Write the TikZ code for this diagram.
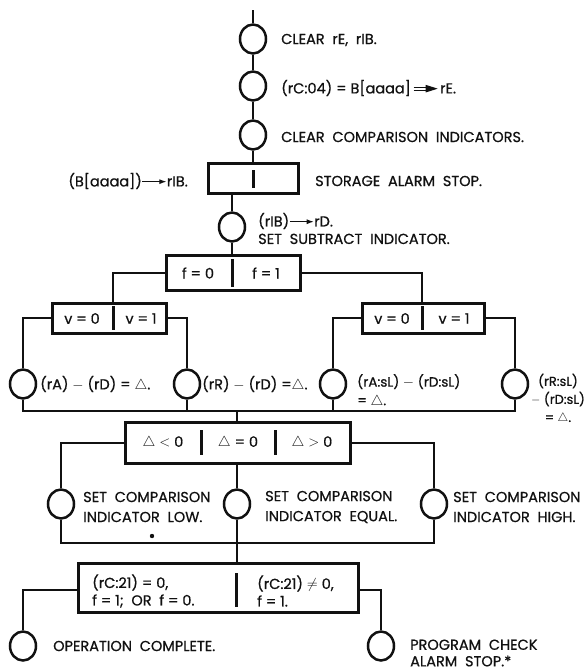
\documentclass[tikz,border=0pt]{standalone}
\usepackage{fontspec}
\setmainfont{Poppins}[FakeBold=0.7]
\usepackage{tikz}
\usetikzlibrary{arrows.meta,positioning,calc,shapes.geometric}
\definecolor{inkblack}{HTML}{111111}

\newcommand{\sarrow}{\tikz[baseline=-0.6ex]\draw[inkblack,line width=1pt,-{Latex[length=7pt,width=5pt]}] (0pt,0pt) -- (24pt,0pt);}
\newcommand{\dblarrow}{\tikz[baseline=-0.6ex]{\draw[inkblack,line width=0.9pt] (0pt,1.3pt) -- (15pt,1.3pt) (0pt,-1.3pt) -- (15pt,-1.3pt);
  \fill[inkblack] (12pt,3.8pt) -- (24pt,0pt) -- (12pt,-3.8pt) -- cycle;}}

\begin{document}
\begin{tikzpicture}[x=1pt,y=-1pt,inkblack,font=\fontsize{14.5}{17.5}\selectfont,
    opnode/.style={ellipse,draw=inkblack,line width=2.5pt,minimum width=26pt,minimum height=29pt,inner sep=0pt},
    testbox/.style={rectangle,draw=inkblack,line width=3pt,inner sep=0pt},
    link/.style={line width=2pt},
    divider/.style={line width=3pt},
    note/.style={anchor=west,align=left,inner sep=0pt},
    celltext/.style={inner sep=0pt}]
  \useasboundingbox (0,0) rectangle (587,670);

  % main column
  \coordinate (entry) at (253,10);
  \node[opnode] (c1) at (253,39) {};
  \node[note] (t1) at (281,40) {CLEAR\ \ rE,\ \ rIB.};
  \node[opnode] (c2) at (253,86) {};
  \node[note] (t2) at (281,88) {(rC:04) = B[aaaa]\,\dblarrow\,rE.};
  \node[opnode] (c3) at (253,135) {};
  \node[note] (t3) at (281,137) {CLEAR\ \ COMPARISON\ \ INDICATORS.};

  \node[testbox,minimum width=90pt,minimum height=30pt] (sbox) at (253,178) {};
  \node[note,anchor=east] (sin) at (188,181) {(B[aaaa])\sarrow rIB.};
  \node[note] (sout) at (315,181) {STORAGE\ \ ALARM\ \ STOP.};
  \draw[divider] (253,170) -- (253,188);

  \node[opnode] (c4) at (232,227) {};
  \node[note] (t4) at (258,228.5) {(rIB)\sarrow rD.\\SET\ \ SUBTRACT\ \ INDICATOR.};

  \node[testbox,minimum width=134pt,minimum height=35pt] (fbox) at (233,272.5) {};
  \node[celltext] (f0) at (198,273) {f = 0};
  \node[celltext] (f1) at (266,273) {f = 1};
  \draw[divider] (232,259) -- (232,287);

  \draw[link] (entry) -- (c1) -- (c2) -- (c3) -- (sbox);
  \draw[link] (sbox.south -| c4) -- (c4) -- (c4 |- fbox.north);

  % v tests
  \node[testbox,minimum width=114pt,minimum height=30pt] (lvbox) at (109,318) {};
  \node[celltext] (lv0) at (82,318.5) {v = 0};
  \node[celltext] (lv1) at (141,318.5) {v = 1};
  \draw[divider] (113,306) -- (113,330);
  \node[testbox,minimum width=122pt,minimum height=30pt] (rvbox) at (423,318) {};
  \node[celltext] (rv0) at (392,318.5) {v = 0};
  \node[celltext] (rv1) at (454,318.5) {v = 1};
  \draw[divider] (422,306) -- (422,330);

  \coordinate (lvsplit) at (113,303);
  \coordinate (rvsplit) at (422,303);
  \draw[link] (fbox.west) -| (lvsplit);
  \draw[link] (fbox.east) -| (rvsplit);

  \node[opnode] (c5) at (23,384) {};
  \node[opnode] (c6) at (187,384) {};
  \node[opnode] (c7) at (333,384) {};
  \node[opnode] (c8) at (515,384) {};
  \node[note] (t5) at (40,384) {(rA) $-$ (rD) = $\triangle$.};
  \node[note] (t6) at (202,384) {(rR) $-$ (rD) =$\triangle$.};
  \node[note,font=\fontsize{13.5}{18.5}\selectfont] (t7) at (357,391) {(rA:sL) $-$ (rD:sL)\\= $\triangle$.};
  \node[inner sep=0pt,align=center,font=\fontsize{13}{18}\selectfont] (t8) at (558,399) {(rR:sL)\\$-$ (rD:sL)\\= $\triangle$.};

  \draw[link] (lvbox.west) -| (c5);
  \draw[link] (lvbox.east) -| (c6);
  \draw[link] (rvbox.west) -| (c7);
  \draw[link] (rvbox.east) -| (c8);

  \coordinate (vjoin) at (237,411);
  \draw[link] (c5) |- (vjoin) -| (c8);
  \draw[link] (c6) -- (c6 |- vjoin);
  \draw[link] (c7) -- (c7 |- vjoin);

  % delta test
  \node[testbox,minimum width=225pt,minimum height=41pt] (tbox) at (237.5,442.5) {};
  \node[celltext] (d1) at (163,443) {$\triangle$ $<$ 0};
  \node[celltext] (d2) at (238,443) {$\triangle$ = 0};
  \node[celltext] (d3) at (312,443) {$\triangle$ $>$ 0};
  \draw[divider] (201,430) -- (201,455);
  \draw[divider] (275,430) -- (275,455);
  \draw[link] (vjoin) -- (vjoin |- tbox.north);

  \node[opnode] (c9) at (61,504) {};
  \node[opnode] (c10) at (237,504) {};
  \node[opnode] (c11) at (434,504) {};
  \node[note,font=\fontsize{14.5}{20}\selectfont] (t9) at (83,507) {SET\ \ COMPARISON\\INDICATOR\ \ LOW.};
  \node[note,font=\fontsize{14.5}{20}\selectfont] (t10) at (265,507) {SET\ \ COMPARISON\\INDICATOR\ \ EQUAL.};
  \node[note,font=\fontsize{14.5}{20}\selectfont] (t11) at (453,507) {SET\ \ COMPARISON\\INDICATOR\ \ HIGH.};
  \fill (152,536) circle (2.2pt);

  \draw[link] (tbox.west) -| (c9);
  \draw[link] (tbox.east) -| (c11);
  \draw[link] (tbox.south -| c10) -- (c10);

  \coordinate (cjoin) at (237,543);
  \draw[link] (c9) |- (cjoin) -| (c11);
  \draw[link] (c10) -- (cjoin);

  % final test
  \node[testbox,minimum width=280pt,minimum height=49pt] (obox) at (218,587.5) {};
  \node[note] (o1) at (92,591) {(rC:21) = 0,\\f = 1;\ \ OR\ \ f = 0.};
  \node[note] (o2) at (257,591) {(rC:21) $\neq$ 0,\\f = 1.};
  \draw[divider] (236,573) -- (236,607);
  \draw[link] (cjoin) -- (cjoin |- obox.north);

  \node[opnode] (c12) at (23,646) {};
  \node[opnode] (c13) at (381,646) {};
  \node[note] (t12) at (53,646) {OPERATION\ \ COMPLETE.};
  \node[note,font=\fontsize{14.5}{16.5}\selectfont] (t13) at (410,653) {PROGRAM\ \ CHECK\\ALARM\ \ STOP.*};

  \draw[link] (obox.west |- 0,590) -| (c12);
  \draw[link] (obox.east |- 0,590) -| (c13);
\end{tikzpicture}
\end{document}
